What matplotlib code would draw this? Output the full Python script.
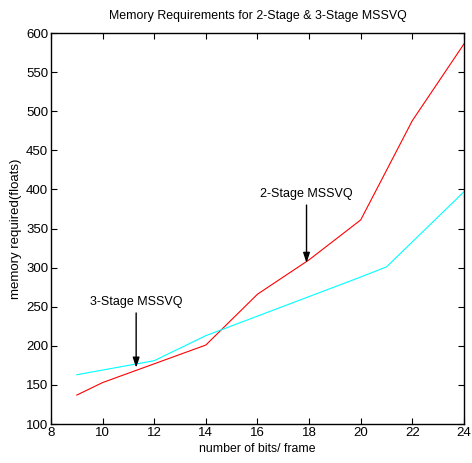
import matplotlib
matplotlib.use("Agg")
import matplotlib.pyplot as plt

bits_2stage = [9, 10, 12, 14, 16, 18, 20, 22, 24]
mem_2stage = [137, 153, 177, 201, 266, 310, 361, 488, 586]
bits_3stage = [9, 10, 12, 14, 16, 18, 20, 21, 24]
mem_3stage = [163, 169, 181, 213, 238, 263, 288, 301, 397]
xticks = [8, 10, 12, 14, 16, 18, 20, 22, 24]
yticks = [100, 150, 200, 250, 300, 350, 400, 450, 500, 550, 600]

plt.rcParams['font.family'] = ['Liberation Sans', 'DejaVu Sans']

fig = plt.figure(figsize=(4.72, 4.63), dpi=100)
ax = fig.add_axes([0.108, 0.0842, 0.875, 0.8445])
ax.plot(bits_2stage, mem_2stage, color='red', lw=0.8)
ax.plot(bits_3stage, mem_3stage, color='cyan', lw=0.8)
ax.set_xlim(8, 24)
ax.set_ylim(100, 600)
ax.set_xticks(xticks)
ax.set_yticks(yticks)
ax.tick_params(direction='in', top=True, right=True, labelsize=9.5, length=4, width=0.8, pad=2)
for s in ax.spines.values():
    s.set_linewidth(1.0)
ax.set_title('Memory Requirements for 2-Stage & 3-Stage MSSVQ', fontsize=8.9, pad=10)
ax.set_xlabel('number of bits/ frame', fontsize=8.8, labelpad=3)
ax.set_ylabel('memory required(floats)', fontsize=9.5, labelpad=3)

ap = dict(arrowstyle='-|>,head_length=0.6,head_width=0.2', color='black', lw=1.0,
          shrinkA=0, shrinkB=0)
ax.text(17.9, 394, '2-Stage MSSVQ', fontsize=9.0, ha='center', va='center')
ax.annotate('', xy=(17.9, 306), xytext=(17.9, 380), arrowprops=ap)
ax.text(11.3, 256, '3-Stage MSSVQ', fontsize=9.0, ha='center', va='center')
ax.annotate('', xy=(11.3, 172), xytext=(11.3, 242), arrowprops=ap)

fig.savefig('out.png', dpi=100)
